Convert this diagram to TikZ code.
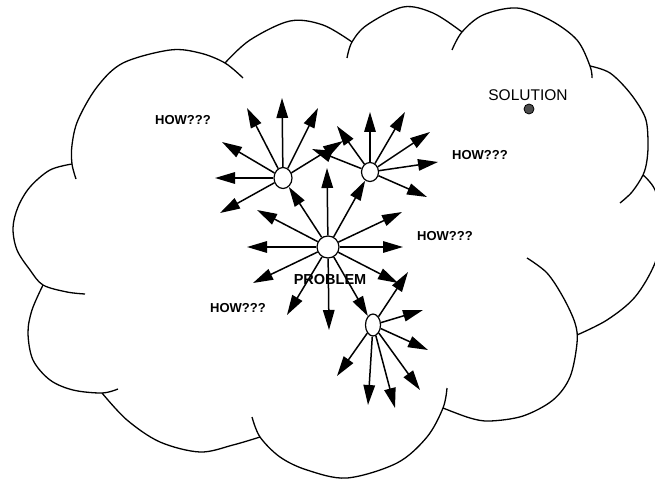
\documentclass[tikz,border=0pt]{standalone}
\usepackage{fontspec}
\setmainfont{Liberation Sans}
\usetikzlibrary{arrows.meta,shapes.geometric}
\tikzset{
  lobe/.style={line width=1.3pt, smooth, tension=0.55},
  hub/.style={draw, fill=white, line width=1.2pt, ellipse, inner sep=0pt},
  arr/.style={-{Triangle[length=20pt,width=11.5pt]}, line width=1.5pt},
  how/.style={font=\bfseries\fontsize{13}{13}\selectfont, inner sep=0pt},
}
\begin{document}
\begin{tikzpicture}[x=1pt,y=-1pt]
\useasboundingbox (0,0) rectangle (655,481);
\clip (0,0) rectangle (655,481);
% cloud lobes
\draw[lobe] plot coordinates {(76,179) (72,164) (72,145) (78,120) (97,87) (123,63) (170,50) (200,53) (225,63) (243,78)};
\draw[lobe] plot coordinates {(225,63) (250,40) (290,21) (323,25) (352,42)};
\draw[lobe] plot coordinates {(347,58) (352,42) (367,25) (403,7) (433,13) (462,32)};
\draw[lobe] plot coordinates {(452,50) (462,32) (483,15) (517,8) (550,20) (577,40) (590,66) (592,78)};
\draw[lobe] plot coordinates {(590,66) (610,73) (630,93) (645,117) (648,140) (647,160) (643,175) (632,192) (620,203)};
\draw[lobe] plot coordinates {(643,175) (655,190) (664,225) (655,263) (635,297) (607,320) (577,335)};
\draw[lobe] plot coordinates {(527,258) (547,273) (563,297) (575,323) (577,343) (570,377) (553,400) (523,416) (490,421) (470,418) (443,408)};
\draw[lobe] plot coordinates {(447,388) (443,408) (427,437) (397,463) (347,478) (307,470) (280,457) (260,437) (252,417)};
\draw[lobe] plot coordinates {(102,393) (127,420) (160,442) (200,452) (233,445) (260,437)};
\draw[lobe] plot coordinates {(43,285) (32,310) (28,333) (33,360) (50,380) (73,390) (102,393) (118,389)};
\draw[lobe] plot coordinates {(72,164) (50,170) (30,187) (18,207) (13,228) (17,250) (30,270) (43,285) (67,292) (85,294)};

% hubs
\node[hub, minimum width=22pt, minimum height=22pt] (m) at (328,247) {};
\node[hub, minimum width=18pt, minimum height=21pt] (n1) at (283,178) {};
\node[hub, minimum width=17pt, minimum height=19pt] (n2) at (370,172) {};
\node[hub, minimum width=15pt, minimum height=22pt] (n4) at (373,325) {};

% arrows from the problem
\foreach \i/\x/\y in {1/327/168, 2/257/210, 3/247/247, 4/253/283, 5/287/315, 6/329/330, 7/398/283, 8/403/247, 9/402/212}
  {\coordinate (m\i) at (\x,\y); \draw[arr] (m) -- (m\i);}
\draw[arr] (m) -- (n1);
\draw[arr] (m) -- (n2);
\draw[arr] (m) -- (n4);
% arrows from hub 1
\foreach \i/\x/\y in {1/282/98, 2/247/108, 3/318/108, 4/222/142, 5/215/178, 6/220/213, 7/343/141}
  {\coordinate (a\i) at (\x,\y); \draw[arr] (n1) -- (a\i);}
% arrows from hub 2
\foreach \i/\x/\y in {1/370/112, 2/405/112, 3/430/132, 4/438/162, 5/427/197, 6/337/126, 7/312/149}
  {\coordinate (b\i) at (\x,\y); \draw[arr] (n2) -- (b\i);}
% arrows from hub 4
\foreach \i/\x/\y in {1/408/272, 2/423/310, 3/428/350, 4/420/390, 5/395/408, 6/368/405, 7/337/376}
  {\coordinate (c\i) at (\x,\y); \draw[arr] (n4) -- (c\i);}

% labels
\node[how] (h1) at (183,120) {HOW???};
\node[how] (h2) at (480,155) {HOW???};
\node[how] (h3) at (445,236) {HOW???};
\node[how] (h4) at (238,308) {HOW???};
\node[font=\bfseries\fontsize{14.5}{14.5}\selectfont, inner sep=0pt] (p) at (330,280) {PROBLEM};
\node[font=\fontsize{15.5}{15.5}\selectfont, inner sep=0pt] (s) at (528,95) {SOLUTION};
\node[circle, draw, fill=black!70, line width=0.8pt, minimum size=10pt, inner sep=0pt] (sd) at (529,109) {};
\end{tikzpicture}
\end{document}
